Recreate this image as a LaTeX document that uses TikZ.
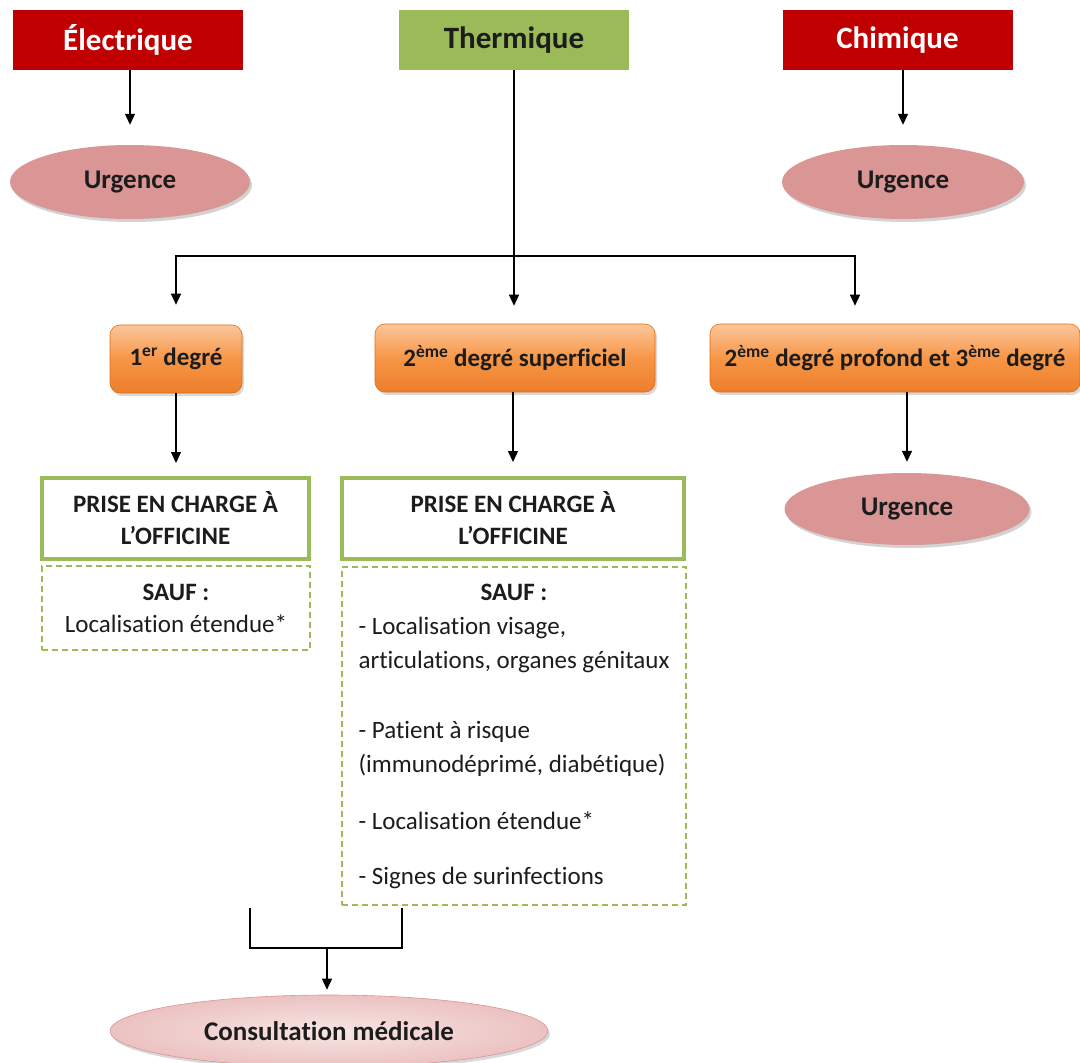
\documentclass[tikz,border=0pt]{standalone}
\usepackage{fontspec}
\setmainfont{Carlito}[Ligatures=NoCommon]
\usetikzlibrary{arrows.meta,shapes.geometric,shadows}
\definecolor{redH}{HTML}{C00000}
\definecolor{greenH}{HTML}{9BBB59}
\definecolor{urgF}{HTML}{D99694}
\definecolor{orT}{HTML}{FBC69B}
\definecolor{orM}{HTML}{F79646}
\definecolor{orB}{HTML}{EC7E2C}
\definecolor{orD}{HTML}{E46C0A}
\definecolor{txt}{HTML}{1C1C1C}
\definecolor{consIn}{HTML}{F7E6E5}
\definecolor{consOut}{HTML}{EBC2C1}
\definecolor{consD}{HTML}{D99694}
\begin{document}
\begin{tikzpicture}[x=1pt,y=-1pt,
  header/.style={rectangle, minimum width=230pt, minimum height=60pt, inner sep=0pt,
    font=\fontsize{31}{36}\selectfont\bfseries},
  urg/.style={ellipse, fill=urgF, inner sep=0pt, text=txt,
    drop shadow={shadow xshift=2pt, shadow yshift=-3pt, opacity=0.35},
    font=\fontsize{27}{31}\selectfont\bfseries},
  degbox/.style={rectangle, rounded corners=10pt, draw=orD, line width=0.6pt,
    top color=orT, bottom color=orB, middle color=orM, inner sep=0pt, text=txt,
    drop shadow={shadow xshift=2pt, shadow yshift=-3pt, opacity=0.3},
    minimum height=68pt, font=\fontsize{25}{29}\selectfont\bfseries},
  prisebox/.style={rectangle, draw=greenH, line width=4pt, inner sep=0pt, align=center,
    text=txt, font=\fontsize{25}{32}\selectfont\bfseries, minimum height=81pt},
  saufbox/.style={rectangle, draw=greenH, line width=1.6pt, dash pattern=on 6pt off 4pt,
    inner sep=0pt, text=txt, font=\fontsize{25}{34}\selectfont},
  arr/.style={draw=black, line width=1.3pt, -{Triangle[width=10pt,length=11pt]}},
  ln/.style={draw=black, line width=1.3pt}
]
\useasboundingbox (0,0) rectangle (1080,1063);

% headers
\node[header, fill=redH, text=white] (elec) at (128,40) {Électrique};
\node[header, fill=greenH, text=txt] (therm) at (514,40) {Thermique};
\node[header, fill=redH, text=white] (chim) at (897.5,40) {Chimique};

% urgence ellipses
\node[urg, minimum width=240pt, minimum height=74pt] (urg1) at (130,182) {Urgence};
\node[urg, minimum width=242pt, minimum height=74pt] (urg2) at (903,182) {Urgence};

% degree boxes
\node[degbox, minimum width=132pt] (deg1) at (176,359) {1\textsuperscript{er} degré};
\node[degbox, minimum width=280pt] (deg2s) at (515,358) {2\textsuperscript{ème} degré superficiel};
\node[degbox, minimum width=370pt] (deg3) at (895,358) {2\textsuperscript{ème} degré profond et 3\textsuperscript{ème} degré};

% prise en charge
\node[prisebox, minimum width=267pt] (prise1) at (175.5,518.5) {PRISE EN CHARGE À\\L’OFFICINE};
\node[prisebox, minimum width=342pt] (prise2) at (513,518.5) {PRISE EN CHARGE À\\L’OFFICINE};
\node[urg, minimum width=245pt, minimum height=72pt] (urg3) at (907,509) {Urgence};

% sauf boxes
\node[saufbox, align=center, minimum width=268pt, minimum height=84pt] (sauf1) at (176,608)
  {\textbf{SAUF :}\\[-2pt]Localisation étendue*};
\node[saufbox, minimum width=344pt, minimum height=338pt] (sauf2) at (514,736)
  {\begin{tabular}{@{}l@{}}
   \multicolumn{1}{c}{\textbf{SAUF :}}\\
   - Localisation visage,\\
   articulations, organes génitaux\\[36pt]
   - Patient à risque\\
   (immunodéprimé, diabétique)\\[23pt]
   - Localisation étendue*\\[21pt]
   - Signes de surinfections
   \end{tabular}};

% consultation
\node[ellipse, inner color=consIn, outer color=consOut, draw=consD, line width=0.6pt,
  inner sep=0pt, minimum width=438pt, minimum height=72pt, text=txt,
  drop shadow={shadow xshift=2pt, shadow yshift=-3pt, opacity=0.3},
  font=\fontsize{27}{31}\selectfont\bfseries] (cons) at (329,1031) {Consultation médicale};

% connectors
\draw[arr, shorten >=20pt] (elec.south -| urg1) -- (urg1.north);
\draw[arr, shorten >=20pt] (chim.south -| urg2) -- (urg2.north);
\coordinate (split) at (514,256);
\draw[arr, shorten >=18pt] (therm.south) -- (therm.south |- deg2s.north);
\draw[arr, shorten >=20pt] (split) -| (deg1.north);
\draw[arr, shorten >=18pt] (split) -| ([xshift=-40pt]deg3.north);
\draw[arr, shorten >=13pt] (deg1.south) -- (prise1.north -| deg1.south);
\draw[arr, shorten >=14pt] (deg2s.south -| prise2.north) -- (prise2.north);
\draw[arr, shorten >=11pt] (deg3.south -| urg3) -- (urg3.north);

% bracket to consultation
\coordinate (bl) at (250,908);
\coordinate (br) at (402,908);
\coordinate (bm) at (327,948);
\draw[ln] (bl) |- (bm) -| (br);
\draw[arr, shorten >=5pt] (bm) -- (cons.north -| bm);
\end{tikzpicture}
\end{document}
